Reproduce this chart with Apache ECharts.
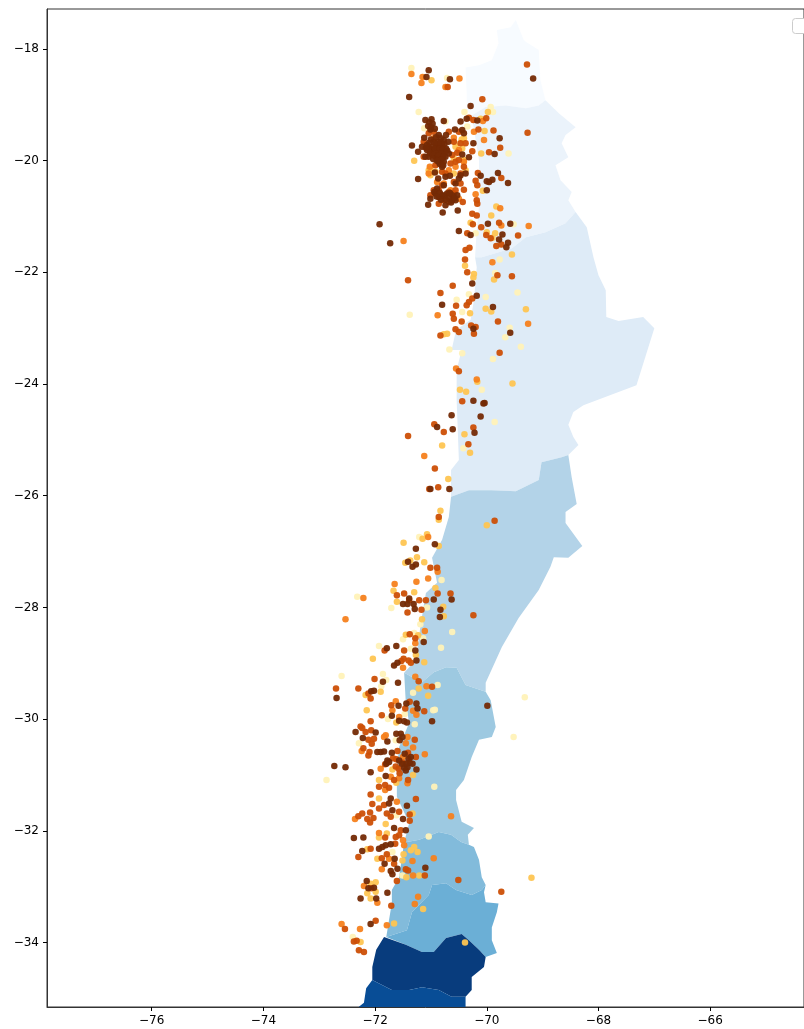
<!DOCTYPE html>
<html>
<head>
<meta charset="utf-8">
<title>map</title>
<script src="https://cdn.jsdelivr.net/npm/echarts@6/dist/echarts.min.js"></script>
<style>
  html, body { margin: 0; padding: 0; background: #fff; overflow: hidden; }
  #main { width: 804px; height: 1029px; }
</style>
</head>
<body>
<div id="main"></div>
<script>
// tick labels
const xTicks = [-76, -74, -72, -70, -68, -66];
const yTicks = [-34, -32, -30, -28, -26, -24, -22, -20, -18];

// regions, north to south, [lon, lat]
const region1 = [[-69.48,-17.48],[-69.57,-17.61],[-69.82,-17.66],[-69.79,-17.90],[-69.91,-18.20],[-70.14,-18.29],[-70.38,-18.33],[-70.36,-18.79],[-70.36,-19.09],[-70.27,-19.19],[-70.02,-19.04],[-69.66,-19.01],[-69.30,-19.06],[-69.07,-19.01],[-68.95,-18.92],[-69.04,-18.56],[-69.07,-18.02],[-69.29,-17.88],[-69.34,-17.84]];
const region2 = [[-70.27,-19.19],[-70.02,-19.04],[-69.66,-19.01],[-69.30,-19.06],[-69.07,-19.01],[-68.95,-18.92],[-68.71,-19.15],[-68.41,-19.40],[-68.59,-19.54],[-68.66,-19.69],[-68.54,-19.94],[-68.77,-20.08],[-68.68,-20.35],[-68.48,-20.56],[-68.54,-20.71],[-68.41,-20.92],[-68.59,-21.12],[-68.95,-21.28],[-69.30,-21.37],[-69.55,-21.57],[-70.09,-21.73],[-70.21,-21.73],[-70.18,-21.24],[-70.13,-20.71],[-70.14,-19.99]];
const region3 = [[-70.21,-21.73],[-70.09,-21.73],[-69.55,-21.57],[-69.30,-21.37],[-68.95,-21.28],[-68.59,-21.12],[-68.41,-20.92],[-68.21,-21.19],[-68.09,-21.73],[-68.00,-22.05],[-67.87,-22.32],[-67.86,-22.80],[-67.64,-22.87],[-67.20,-22.80],[-67.00,-23.00],[-67.32,-24.02],[-68.27,-24.38],[-68.45,-24.50],[-68.54,-24.73],[-68.45,-24.95],[-68.36,-25.09],[-68.54,-25.27],[-68.66,-25.31],[-69.02,-25.40],[-69.07,-25.72],[-69.48,-25.92],[-69.91,-25.90],[-70.32,-25.90],[-70.64,-26.02],[-70.64,-25.54],[-70.50,-25.36],[-70.54,-24.29],[-70.54,-23.75],[-70.45,-23.39],[-70.63,-23.39],[-70.55,-23.03],[-70.29,-22.85],[-70.23,-22.50],[-70.18,-21.91]];
const region4 = [[-70.64,-26.02],[-70.32,-25.90],[-69.91,-25.90],[-69.48,-25.92],[-69.07,-25.72],[-69.02,-25.40],[-68.66,-25.31],[-68.54,-25.27],[-68.48,-25.67],[-68.39,-26.15],[-68.59,-26.29],[-68.59,-26.49],[-68.29,-26.90],[-68.54,-27.11],[-68.80,-27.10],[-68.86,-27.27],[-69.07,-27.69],[-69.43,-28.19],[-69.73,-28.71],[-70.02,-29.35],[-70.02,-29.51],[-70.38,-29.39],[-70.54,-29.08],[-70.73,-29.07],[-70.95,-29.16],[-71.16,-29.34],[-71.48,-29.17],[-71.27,-28.94],[-71.18,-28.28],[-71.09,-27.74],[-70.89,-27.56],[-70.98,-27.11],[-70.80,-26.79],[-70.68,-26.38]];
const region5 = [[-71.48,-29.17],[-71.16,-29.34],[-70.95,-29.16],[-70.73,-29.07],[-70.54,-29.08],[-70.38,-29.39],[-70.02,-29.51],[-69.93,-29.66],[-69.84,-30.14],[-69.91,-30.32],[-70.14,-30.37],[-70.27,-30.68],[-70.41,-31.09],[-70.55,-31.27],[-70.55,-31.45],[-70.45,-31.84],[-70.23,-31.95],[-70.34,-32.07],[-70.32,-32.25],[-70.46,-32.20],[-70.64,-32.07],[-70.86,-32.02],[-71.21,-32.16],[-71.48,-32.21],[-71.39,-31.86],[-71.61,-31.39],[-71.61,-30.91],[-71.57,-30.50],[-71.39,-30.07],[-71.45,-29.71]];
const region6 = [[-71.48,-32.21],[-71.21,-32.16],[-70.86,-32.02],[-70.64,-32.07],[-70.46,-32.20],[-70.32,-32.25],[-70.23,-32.29],[-70.14,-32.52],[-70.09,-32.83],[-70.02,-32.97],[-70.09,-33.06],[-70.27,-33.15],[-70.55,-33.06],[-70.73,-32.94],[-70.98,-32.97],[-71.04,-33.15],[-71.34,-33.46],[-71.43,-33.78],[-71.80,-33.90],[-71.70,-33.29],[-71.70,-33.06],[-71.57,-32.83]];
const region7 = [[-71.80,-33.90],[-71.43,-33.78],[-71.34,-33.46],[-71.04,-33.15],[-70.98,-32.97],[-70.73,-32.94],[-70.55,-33.06],[-70.27,-33.15],[-70.09,-33.06],[-70.02,-32.97],[-70.05,-33.10],[-70.02,-33.28],[-69.79,-33.30],[-69.82,-33.46],[-69.91,-33.73],[-69.91,-33.96],[-69.82,-34.19],[-70.02,-34.26],[-70.14,-34.13],[-70.32,-33.96],[-70.45,-33.85],[-70.73,-33.92],[-70.95,-34.17],[-71.16,-34.17],[-71.45,-34.04]];
const region8 = [[-71.84,-33.90],[-71.45,-34.04],[-71.16,-34.17],[-70.95,-34.17],[-70.73,-33.92],[-70.45,-33.85],[-70.32,-33.96],[-70.14,-34.13],[-70.02,-34.26],[-70.05,-34.44],[-70.27,-34.62],[-70.27,-34.85],[-70.38,-34.97],[-70.63,-34.97],[-70.86,-34.85],[-71.16,-34.80],[-71.39,-34.85],[-71.70,-34.85],[-72.05,-34.67],[-72.05,-34.44],[-71.98,-34.13]];
const region9 = [[-72.05,-34.67],[-71.70,-34.85],[-71.39,-34.85],[-71.16,-34.80],[-70.86,-34.85],[-70.63,-34.97],[-70.38,-34.97],[-70.38,-35.38],[-72.34,-35.38],[-72.29,-35.15],[-72.20,-35.08],[-72.16,-34.82]];
const regions = [region1, region2, region3, region4, region5, region6, region7, region8, region9];
const regionColors = ['#f7fbff', '#ebf3fb', '#deebf7', '#b3d3e8', '#9dc9e1', '#82bbdb', '#6bafd6', '#083c7d', '#084d96'];

// points by colour band, pale to dark, [lon, lat]
const band0 = [[-71.35,-18.34],[-70.71,-18.52],[-69.93,-19.04],[-69.89,-19.13],[-70.40,-19.13],[-71.22,-19.13],[-70.35,-19.39],[-69.61,-19.87],[-69.52,-21.14],[-70.20,-21.30],[-69.77,-21.77],[-69.85,-22.01],[-69.45,-22.36],[-70.32,-22.39],[-70.54,-22.49],[-70.02,-22.44],[-71.38,-22.76],[-70.44,-22.71],[-69.59,-22.99],[-69.67,-23.16],[-69.39,-23.33],[-69.89,-23.55],[-70.44,-23.45],[-70.67,-23.38],[-70.09,-24.10],[-69.86,-24.68],[-70.42,-25.15],[-71.21,-26.74],[-70.81,-27.51],[-72.32,-27.81],[-71.71,-28.01],[-71.07,-28.00],[-71.19,-28.30],[-70.62,-28.44],[-71.30,-28.46],[-71.50,-28.57],[-71.14,-28.55],[-70.82,-28.72],[-71.93,-28.69],[-71.36,-28.74],[-72.60,-29.23],[-71.86,-29.19],[-71.80,-29.30],[-71.89,-29.41],[-70.88,-29.39],[-71.32,-29.53],[-69.32,-29.61],[-69.52,-30.32],[-70.96,-29.84],[-70.93,-29.83],[-71.77,-30.00],[-71.47,-29.91],[-71.29,-30.09],[-72.29,-30.43],[-71.63,-30.38],[-72.87,-31.09],[-70.94,-31.21],[-71.62,-31.72],[-71.04,-32.10],[-71.69,-32.38],[-71.51,-32.80],[-72.40,-33.90],[-71.12,-19.42],[-70.56,-19.69],[-70.74,-19.30]];
const band1 = [[-70.99,-18.56],[-69.98,-19.13],[-70.11,-19.25],[-70.04,-19.47],[-70.45,-19.62],[-70.10,-19.87],[-71.30,-20.00],[-70.07,-20.54],[-69.83,-20.82],[-69.92,-20.98],[-70.29,-21.11],[-70.00,-21.28],[-69.85,-21.30],[-69.90,-21.38],[-69.55,-21.68],[-70.39,-21.88],[-70.23,-22.03],[-70.24,-22.09],[-69.87,-22.13],[-70.02,-22.65],[-69.92,-22.70],[-69.30,-22.66],[-70.30,-22.73],[-70.71,-23.10],[-70.77,-23.11],[-70.17,-23.96],[-69.54,-23.99],[-70.48,-24.10],[-70.37,-24.14],[-70.40,-24.90],[-70.80,-25.10],[-70.30,-25.23],[-70.69,-25.70],[-70.83,-26.27],[-70.86,-26.43],[-70.00,-26.53],[-71.49,-26.84],[-71.15,-26.77],[-71.07,-26.69],[-70.86,-26.90],[-71.25,-27.10],[-71.12,-27.19],[-71.46,-27.20],[-71.37,-27.16],[-70.92,-27.65],[-71.30,-27.73],[-71.67,-27.70],[-71.61,-27.90],[-70.78,-27.99],[-70.77,-28.16],[-71.16,-28.21],[-71.45,-28.49],[-71.23,-28.50],[-71.27,-28.85],[-72.04,-28.92],[-71.12,-28.98],[-71.90,-29.51],[-72.17,-29.57],[-71.22,-29.45],[-71.05,-29.58],[-72.15,-29.84],[-71.62,-30.06],[-71.69,-30.90],[-71.32,-31.00],[-71.93,-31.09],[-71.62,-31.14],[-71.93,-31.42],[-71.33,-31.69],[-71.81,-31.88],[-71.79,-32.05],[-71.93,-32.12],[-72.14,-32.33],[-71.30,-32.29],[-71.36,-32.35],[-71.24,-32.38],[-71.49,-32.42],[-71.96,-32.50],[-71.51,-32.53],[-71.21,-32.80],[-71.44,-32.83],[-69.20,-32.84],[-71.99,-32.92],[-72.08,-32.95],[-71.99,-33.09],[-72.14,-33.12],[-72.08,-33.21],[-71.14,-33.40],[-71.66,-33.66],[-72.26,-33.99],[-70.39,-34.00],[-71.04,-20.17],[-71.01,-20.26],[-71.01,-20.14],[-70.56,-19.75],[-70.59,-19.96],[-70.41,-19.99],[-70.38,-20.17],[-70.92,-20.20],[-70.44,-19.78],[-70.59,-20.23],[-70.41,-19.60]];
const band2 = [[-71.35,-18.45],[-71.15,-18.50],[-71.17,-18.61],[-70.49,-18.53],[-70.74,-18.68],[-70.07,-19.29],[-70.23,-19.48],[-70.05,-19.63],[-70.59,-19.59],[-70.20,-20.60],[-69.76,-20.85],[-69.74,-21.16],[-69.25,-21.17],[-71.49,-21.44],[-69.90,-21.82],[-70.88,-22.77],[-69.26,-22.92],[-70.55,-23.72],[-70.18,-23.92],[-71.12,-25.29],[-71.05,-26.74],[-70.88,-27.36],[-71.05,-27.48],[-71.26,-27.54],[-71.65,-27.58],[-72.21,-27.83],[-72.53,-28.21],[-71.11,-28.42],[-71.28,-28.64],[-71.50,-29.08],[-71.28,-29.24],[-71.08,-29.41],[-71.63,-29.68],[-71.69,-29.84],[-71.57,-29.96],[-71.32,-29.85],[-71.26,-29.92],[-71.84,-30.32],[-71.81,-30.29],[-71.45,-30.43],[-71.42,-30.32],[-72.24,-30.57],[-71.32,-30.51],[-71.11,-30.63],[-71.50,-30.68],[-71.90,-30.89],[-71.72,-31.03],[-71.57,-31.06],[-71.42,-31.15],[-71.82,-31.27],[-71.61,-31.48],[-70.64,-31.74],[-72.36,-31.79],[-71.93,-32.04],[-71.50,-32.17],[-71.48,-32.26],[-71.33,-32.54],[-70.95,-32.49],[-71.75,-32.50],[-71.88,-32.69],[-71.32,-32.80],[-72.20,-32.99],[-71.96,-33.29],[-71.23,-33.18],[-71.29,-33.31],[-71.79,-33.69],[-72.60,-33.67],[-72.27,-33.76],[-70.95,-19.60],[-71.02,-20.11],[-71.04,-20.23],[-70.68,-20.17],[-70.56,-20.11],[-70.41,-20.02],[-70.50,-19.81],[-70.89,-20.38],[-70.77,-20.41],[-70.50,-20.68],[-70.65,-20.53]];
const band3 = [[-70.70,-18.68],[-69.28,-18.28],[-70.08,-18.90],[-70.01,-19.24],[-70.24,-19.27],[-70.32,-19.23],[-70.15,-19.44],[-69.88,-19.46],[-69.27,-19.50],[-70.50,-19.48],[-70.47,-19.69],[-70.38,-19.69],[-69.76,-19.77],[-70.26,-19.83],[-69.96,-19.85],[-70.53,-19.86],[-70.16,-20.22],[-70.20,-20.36],[-69.74,-20.31],[-70.17,-20.44],[-70.18,-20.71],[-70.17,-20.77],[-70.26,-20.95],[-70.18,-20.98],[-70.25,-21.14],[-69.78,-21.11],[-70.10,-21.19],[-70.35,-21.30],[-70.01,-21.33],[-69.93,-21.39],[-69.44,-21.34],[-69.83,-21.53],[-69.74,-21.50],[-70.38,-21.60],[-70.31,-21.56],[-70.39,-21.77],[-70.35,-22.00],[-69.81,-22.05],[-69.55,-22.07],[-71.41,-22.14],[-70.61,-22.24],[-70.83,-22.37],[-70.26,-22.47],[-70.32,-22.53],[-70.36,-22.59],[-70.55,-22.60],[-70.61,-22.74],[-70.59,-22.83],[-70.45,-22.88],[-69.80,-22.88],[-70.28,-22.95],[-70.20,-22.98],[-70.56,-23.02],[-70.50,-23.07],[-70.23,-23.10],[-70.83,-23.13],[-69.77,-23.44],[-70.50,-23.77],[-70.44,-24.31],[-70.94,-24.72],[-70.77,-24.86],[-70.24,-24.78],[-71.41,-24.93],[-70.33,-25.08],[-70.93,-25.51],[-71.03,-25.88],[-70.87,-25.85],[-70.86,-26.38],[-69.86,-26.45],[-71.01,-27.29],[-70.89,-27.29],[-71.48,-27.75],[-70.88,-27.75],[-70.65,-27.75],[-71.21,-27.87],[-71.09,-27.87],[-71.61,-27.78],[-71.39,-27.87],[-71.17,-28.04],[-71.42,-28.09],[-70.24,-28.14],[-71.38,-28.48],[-71.28,-28.55],[-71.83,-28.77],[-71.48,-28.77],[-71.49,-28.92],[-71.53,-28.96],[-71.40,-28.95],[-71.36,-28.99],[-72.01,-29.28],[-71.22,-29.32],[-72.70,-29.45],[-72.30,-29.45],[-72.12,-29.54],[-72.08,-29.63],[-70.98,-29.42],[-71.12,-29.86],[-71.38,-29.69],[-71.46,-29.81],[-71.71,-29.75],[-71.88,-29.93],[-72.08,-30.04],[-72.26,-30.13],[-72.23,-30.16],[-72.17,-30.23],[-72.07,-30.20],[-72.12,-30.37],[-72.02,-30.35],[-72.06,-30.44],[-71.29,-30.37],[-72.21,-30.52],[-72.10,-30.59],[-72.12,-30.65],[-71.60,-30.57],[-71.41,-30.60],[-71.27,-30.68],[-71.82,-30.81],[-71.58,-30.89],[-71.56,-30.97],[-71.66,-31.09],[-71.41,-31.09],[-71.93,-31.21],[-71.82,-31.18],[-71.75,-31.23],[-72.08,-31.35],[-71.27,-31.43],[-72.05,-31.52],[-71.84,-31.54],[-71.93,-31.60],[-71.57,-31.66],[-71.38,-31.71],[-71.79,-31.69],[-71.72,-31.75],[-71.38,-31.82],[-72.23,-31.69],[-72.30,-31.74],[-72.09,-31.67],[-72.14,-31.79],[-72.09,-31.85],[-72.03,-31.77],[-71.54,-31.99],[-71.57,-32.08],[-71.63,-32.11],[-71.82,-32.12],[-71.64,-32.23],[-72.08,-32.32],[-72.30,-32.47],[-71.79,-32.42],[-71.88,-32.49],[-71.66,-32.59],[-71.45,-32.69],[-71.41,-32.71],[-71.11,-32.80],[-71.61,-32.90],[-70.51,-32.88],[-69.74,-33.09],[-72.07,-33.03],[-71.71,-33.34],[-71.99,-33.61],[-72.54,-33.76],[-72.38,-33.98],[-72.33,-33.97],[-72.29,-34.14],[-72.20,-34.17],[-71.04,-19.51],[-70.95,-19.48],[-70.68,-19.48],[-70.59,-19.66],[-71.13,-19.66],[-71.01,-19.87],[-71.13,-19.93],[-70.62,-19.90],[-70.56,-20.02],[-70.65,-20.05],[-70.50,-19.99],[-70.41,-20.11],[-70.92,-20.08],[-70.80,-20.20],[-70.47,-20.23],[-70.59,-20.38],[-70.47,-20.41],[-70.80,-20.44],[-70.95,-20.53],[-70.86,-20.53],[-70.68,-20.56],[-70.56,-20.53],[-70.41,-20.52],[-71.01,-20.62],[-70.77,-20.71],[-70.68,-20.74],[-70.43,-20.74],[-70.59,-20.59],[-70.86,-20.77],[-70.74,-20.23],[-71.50,-30.78],[-71.62,-30.72],[-71.68,-30.70],[-71.63,-30.85]];
const band4 = [[-71.04,-18.38],[-71.08,-18.50],[-70.66,-18.54],[-69.17,-18.53],[-71.39,-18.86],[-70.29,-19.02],[-70.17,-19.28],[-70.36,-19.25],[-70.47,-19.30],[-70.77,-19.29],[-70.99,-19.26],[-71.10,-19.27],[-71.05,-19.38],[-71.01,-19.44],[-70.57,-19.44],[-70.44,-19.45],[-70.41,-19.51],[-69.77,-19.60],[-70.24,-19.69],[-69.86,-19.88],[-70.32,-19.94],[-70.44,-19.89],[-71.34,-19.73],[-71.23,-19.84],[-71.23,-20.33],[-70.11,-20.27],[-69.80,-20.22],[-69.62,-20.40],[-69.90,-20.34],[-69.96,-20.38],[-70.00,-20.37],[-70.00,-20.53],[-70.52,-20.89],[-70.79,-20.93],[-71.05,-20.79],[-69.98,-21.13],[-69.58,-21.13],[-70.29,-21.33],[-70.50,-21.26],[-71.92,-21.14],[-71.73,-21.48],[-69.72,-21.32],[-69.78,-21.41],[-69.62,-21.47],[-69.65,-21.55],[-70.26,-22.20],[-70.18,-22.42],[-70.80,-22.58],[-69.89,-22.62],[-70.24,-23.01],[-69.58,-23.08],[-70.24,-24.30],[-70.06,-24.35],[-70.04,-24.34],[-70.63,-24.56],[-70.11,-24.58],[-70.89,-24.77],[-70.61,-24.81],[-70.22,-24.87],[-71.01,-25.88],[-70.67,-25.88],[-70.93,-26.87],[-71.27,-26.95],[-71.41,-27.18],[-71.33,-27.27],[-71.27,-27.23],[-70.95,-27.86],[-70.63,-27.86],[-71.39,-27.84],[-71.50,-27.94],[-71.42,-27.94],[-71.31,-27.94],[-71.29,-28.03],[-70.83,-28.04],[-70.84,-28.17],[-71.13,-28.62],[-71.62,-28.69],[-71.79,-28.73],[-71.28,-28.77],[-71.60,-28.99],[-71.66,-29.04],[-71.26,-28.95],[-71.86,-29.33],[-71.59,-29.35],[-72.69,-29.62],[-72.02,-29.49],[-72.07,-29.50],[-69.99,-29.76],[-71.26,-29.72],[-71.24,-29.81],[-71.44,-29.72],[-71.58,-29.76],[-71.70,-29.94],[-70.98,-30.04],[-71.57,-30.03],[-71.48,-30.04],[-71.43,-30.06],[-72.35,-30.23],[-71.99,-30.24],[-72.22,-30.34],[-71.78,-30.40],[-71.62,-30.26],[-71.54,-30.26],[-71.51,-30.32],[-71.56,-30.38],[-71.96,-30.59],[-71.90,-30.59],[-71.84,-30.58],[-71.70,-30.60],[-71.57,-30.74],[-71.40,-30.71],[-71.36,-30.68],[-71.33,-30.80],[-71.78,-30.74],[-71.80,-30.80],[-71.75,-30.77],[-71.42,-30.86],[-71.45,-30.92],[-71.48,-30.87],[-71.26,-30.90],[-72.08,-30.95],[-72.73,-30.84],[-72.53,-30.86],[-71.81,-31.02],[-71.43,-31.55],[-71.75,-31.51],[-71.72,-31.42],[-71.69,-31.63],[-71.50,-31.79],[-71.66,-31.95],[-71.45,-31.99],[-72.38,-32.13],[-72.21,-32.12],[-71.72,-32.24],[-71.81,-32.26],[-71.87,-32.29],[-71.93,-32.32],[-72.23,-32.36],[-71.65,-32.50],[-71.83,-32.59],[-71.10,-32.66],[-71.60,-32.68],[-71.72,-32.72],[-71.69,-32.78],[-72.15,-32.90],[-72.12,-33.03],[-72.02,-33.02],[-71.78,-33.11],[-72.26,-33.21],[-71.98,-33.21],[-72.08,-33.67],[-71.12,-19.59],[-70.73,-19.54],[-70.86,-19.54],[-70.95,-19.66],[-70.87,-19.66],[-70.77,-19.63],[-70.69,-19.66],[-71.07,-19.72],[-70.98,-19.75],[-70.89,-19.75],[-70.80,-19.72],[-70.73,-19.78],[-71.16,-19.75],[-71.07,-19.81],[-70.95,-19.84],[-70.86,-19.84],[-70.77,-19.84],[-70.68,-19.87],[-71.04,-19.93],[-70.92,-19.93],[-70.83,-19.93],[-70.74,-19.93],[-71.10,-19.93],[-70.86,-20.02],[-70.77,-20.02],[-70.80,-20.11],[-70.93,-20.21],[-70.74,-20.29],[-70.87,-20.32],[-70.66,-20.27],[-70.38,-20.23],[-70.47,-20.26],[-70.56,-20.41],[-70.50,-20.32],[-70.89,-20.50],[-70.80,-20.62],[-70.92,-20.59],[-70.71,-20.59],[-70.86,-20.65],[-70.62,-20.71],[-70.56,-20.71],[-70.74,-20.80],[-71.01,-20.68],[-70.53,-20.62],[-70.62,-20.62],[-70.77,-20.44],[-71.00,-19.62],[-70.91,-19.58],[-70.82,-19.60],[-71.03,-19.68],[-70.91,-19.70],[-70.83,-19.68],[-70.76,-19.70],[-71.01,-19.79],[-70.93,-19.79],[-70.84,-19.78],[-70.79,-19.80],[-71.09,-19.77],[-71.02,-19.86],[-70.90,-19.87],[-70.81,-19.88],[-70.71,-19.82],[-70.97,-19.90],[-70.87,-19.91],[-70.78,-19.93],[-70.96,-19.97],[-70.88,-19.98],[-70.81,-19.99],[-70.84,-20.06],[-70.78,-20.08],[-70.89,-20.00],[-70.94,-20.56],[-70.84,-20.58],[-70.76,-20.63],[-70.68,-20.66],[-70.64,-20.75],[-70.58,-20.67],[-70.82,-20.70],[-70.90,-20.64],[-70.66,-20.58],[-70.73,-20.70],[-71.03,-19.31],[-70.97,-19.34],[-71.00,-19.40],[-70.93,-19.43],[-71.47,-30.62],[-71.38,-30.78],[-71.44,-30.80],[-71.52,-30.80]];
const bands = [band0, band1, band2, band3, band4];
const bandColors = ['#fff2b8', '#fec552', '#f5811d', '#cc4f06', '#742a05'];

const chart = echarts.init(document.getElementById('main'), null, { renderer: 'canvas' });

const tickFmt = v => String(v).replace('-', '\u2212');
const regionSeries = {
  type: 'custom',
  silent: true,
  clip: true,
  data: regions.map((r, i) => [i]),
  renderItem: function (params, api) {
    const pts = regions[params.dataIndex].map(p => api.coord(p));
    return { type: 'polygon', shape: { points: pts }, style: { fill: regionColors[params.dataIndex] } };
  }
};
const pointSeries = bands.map((b, i) => ({
  type: 'scatter',
  silent: true,
  data: b,
  symbolSize: 6.5,
  itemStyle: { color: bandColors[i], opacity: 0.95 }
}));

chart.setOption({
  animation: false,
  backgroundColor: '#fff',
  grid: { show: true, left: 47, top: 9, right: -2, bottom: 22, borderColor: '#333', borderWidth: 1 },
  xAxis: {
    type: 'value', min: -77.875, max: -64.32, splitLine: { show: false },
    axisLine: { show: true, onZero: false, lineStyle: { color: '#333' } },
    axisTick: { show: true, length: 4, customValues: xTicks, lineStyle: { color: '#000' } },
    axisLabel: { customValues: xTicks, formatter: tickFmt, color: '#000', fontSize: 12, margin: 8, fontFamily: 'DejaVu Sans' }
  },
  yAxis: {
    type: 'value', min: -35.155, max: -17.284, splitLine: { show: false },
    axisLine: { show: true, onZero: false, lineStyle: { color: '#333' } },
    axisTick: { show: true, length: 4, customValues: yTicks, lineStyle: { color: '#000' } },
    axisLabel: { customValues: yTicks, formatter: tickFmt, color: '#000', fontSize: 12, margin: 8, fontFamily: 'DejaVu Sans' }
  },
  // empty legend frame, top right
  graphic: [{
    type: 'rect', left: 792, top: 18, silent: true,
    shape: { width: 30, height: 15, r: 3 },
    style: { fill: '#fff', stroke: '#ccc', lineWidth: 1 }
  }],
  series: [regionSeries].concat(pointSeries)
});
</script>
</body>
</html>
